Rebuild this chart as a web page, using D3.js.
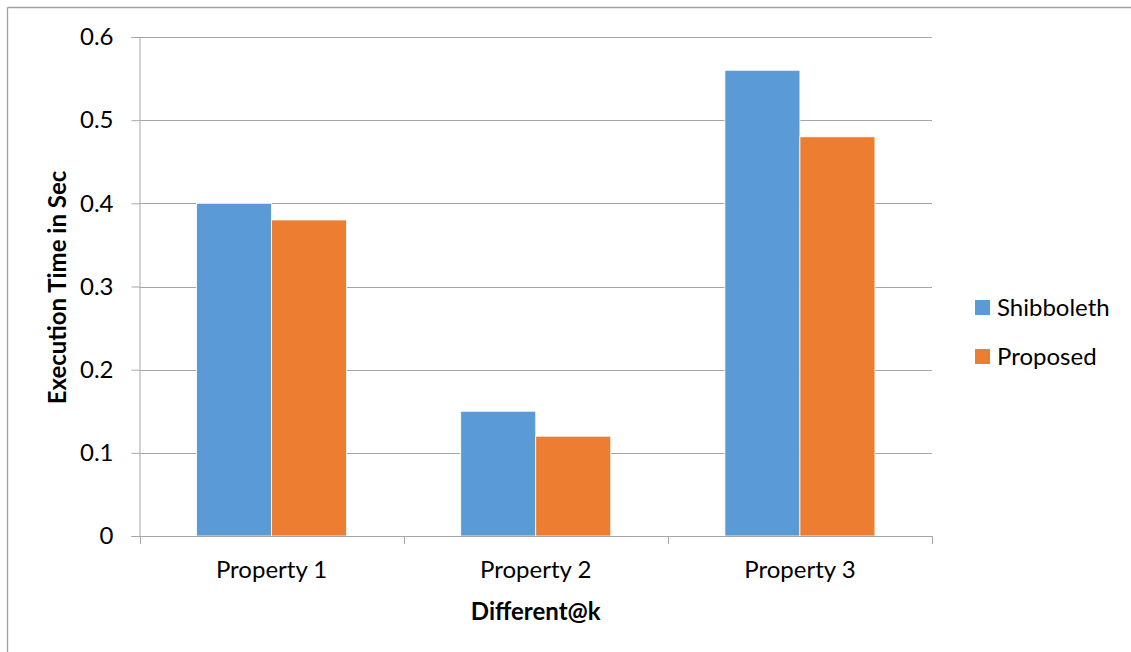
<!DOCTYPE html>
<html>
<head>
<meta charset="utf-8">
<script src="https://cdn.jsdelivr.net/npm/d3@7"></script>
<style>
  body { margin: 0; background: #fff; }
  text { font-family: Lato, "Open Sans", sans-serif; fill: #000; }
</style>
</head>
<body>
<script>
// data
const categories = ["Property 1", "Property 2", "Property 3"];
const seriesNames = ["Shibboleth", "Proposed"];
const shibboleth = [0.40, 0.15, 0.56];
const proposed = [0.38, 0.12, 0.48];
const yTicks = [0, 0.1, 0.2, 0.3, 0.4, 0.5, 0.6];
const colors = ["#5B9BD5", "#ED7D31"];

const W = 1131, H = 652;
const plotL = 139.5, plotR = 932, plotT = 37, plotB = 536;
const fs = "24px";

const svg = d3.select("body").append("svg")
  .attr("width", W).attr("height", H);

// outer frame (only top and left edges show)
svg.append("line").attr("x1", 7.5).attr("x2", W).attr("y1", 7.5).attr("y2", 7.5)
  .attr("stroke", "#a0a0a0").attr("stroke-width", 1.3);
svg.append("line").attr("x1", 7.5).attr("x2", 7.5).attr("y1", 7.5).attr("y2", H)
  .attr("stroke", "#a0a0a0").attr("stroke-width", 1.3);

const x0 = d3.scaleBand().domain(categories).range([plotL, plotR]);
const gap = x0.bandwidth() * 0.216;
const x1 = d3.scaleBand().domain(seriesNames).range([gap, x0.bandwidth() - gap]);
const y = d3.scaleLinear().domain([0, 0.6]).range([plotB, plotT]);

// gridlines
svg.append("g").selectAll("line")
  .data(yTicks.filter(d => d > 0))
  .enter().append("line")
  .attr("x1", plotL).attr("x2", plotR)
  .attr("y1", d => Math.round(y(d)) + 0.5).attr("y2", d => Math.round(y(d)) + 0.5)
  .attr("stroke", "#a6a6a6");

// bars
const rows = categories.map((c, i) => ({ c, vals: [shibboleth[i], proposed[i]] }));
svg.append("g").selectAll("g")
  .data(rows).enter().append("g")
  .attr("transform", d => `translate(${x0(d.c)},0)`)
  .selectAll("rect")
  .data(d => d.vals.map((v, j) => ({ v, s: seriesNames[j], j })))
  .enter().append("rect")
  .attr("x", d => x1(d.s))
  .attr("y", d => y(d.v))
  .attr("width", x1.bandwidth())
  .attr("height", d => y(0) - y(d.v))
  .attr("fill", d => colors[d.j])
  .attr("stroke", "#fff").attr("stroke-width", 0.8);

// y axis
const yAxis = svg.append("g")
  .attr("transform", `translate(${plotL},0)`)
  .call(d3.axisLeft(y).tickValues(yTicks).tickSize(8).tickPadding(18)
    .tickFormat(d => d === 0 ? "0" : d3.format(".1f")(d)));
yAxis.select(".domain").attr("stroke", "#a6a6a6");
yAxis.selectAll(".tick line").attr("stroke", "#a6a6a6");
yAxis.selectAll("text").style("font-size", fs).attr("fill", "#000");

// x axis
const xAxis = svg.append("g")
  .attr("transform", `translate(0,${plotB})`)
  .call(d3.axisBottom(x0).tickSize(0).tickPadding(25));
xAxis.select(".domain").attr("stroke", "#a6a6a6");
xAxis.selectAll("text").style("font-size", fs).attr("fill", "#000");
// boundary ticks between categories
const bounds = categories.map(c => x0(c)).concat([plotR]);
svg.append("g").selectAll("line").data(bounds).enter().append("line")
  .attr("x1", d => Math.round(d) + 0.5).attr("x2", d => Math.round(d) + 0.5)
  .attr("y1", plotB).attr("y2", plotB + 8)
  .attr("stroke", "#a6a6a6");

// axis titles
svg.append("text")
  .attr("x", (plotL + plotR) / 2).attr("y", 620)
  .attr("text-anchor", "middle")
  .style("font-size", fs).style("font-weight", "bold")
  .text("Different@k");

svg.append("text")
  .attr("transform", `translate(66,${(plotT + plotB) / 2 + 1}) rotate(-90)`)
  .attr("text-anchor", "middle")
  .style("font-size", fs).style("font-weight", "bold")
  .text("Execution Time in Sec");

// legend
const legend = svg.append("g").selectAll("g")
  .data(seriesNames).enter().append("g")
  .attr("transform", (d, i) => `translate(975,${300 + i * 49})`);
legend.append("rect")
  .attr("width", 15).attr("height", 15)
  .attr("fill", (d, i) => colors[i]);
legend.append("text")
  .attr("x", 22).attr("y", 16)
  .style("font-size", fs)
  .text(d => d);
</script>
</body>
</html>
